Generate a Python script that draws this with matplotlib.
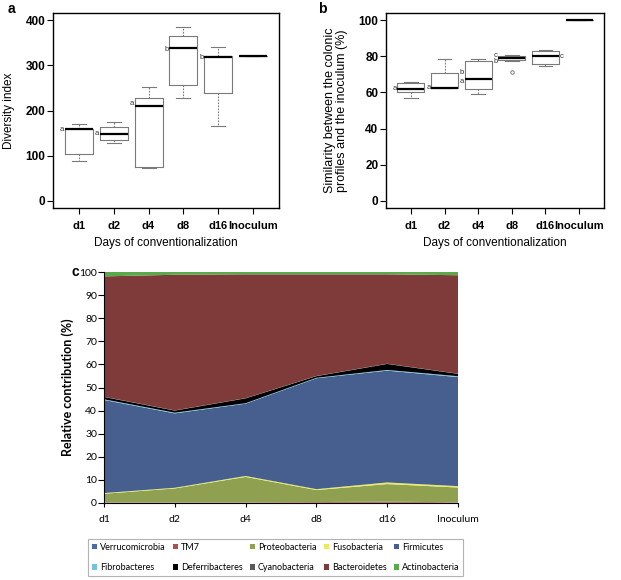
import numpy as np
import matplotlib.pyplot as plt
from matplotlib.patches import Patch

days = ['d1', 'd2', 'd4', 'd8', 'd16', 'Inoculum']

# panel a: diversity index boxplots
div_whislo = [89, 127, 73, 227, 166, 320]
div_q1 = [104, 134, 75, 257, 238, 320]
div_med = [159, 149, 211, 338, 318, 320]
div_q3 = [159, 163, 228, 364, 320, 320]
div_whishi = [169, 174, 252, 386, 340, 320]
div_letters = ['a', 'a', 'a', 'b', 'b', '']
div_letter_y = [158, 149, 216, 336, 318, 0]

# panel b: similarity to inoculum boxplots
sim_whislo = [57.0, 62.3, 58.9, 77.5, 74.6, 100]
sim_q1 = [60.2, 62.4, 61.7, 77.8, 75.6, 100]
sim_med = [62.0, 62.6, 67.6, 78.9, 80.2, 100]
sim_q3 = [65.2, 70.7, 77.6, 80.2, 82.8, 100]
sim_whishi = [65.9, 78.3, 78.5, 80.9, 83.5, 100]
sim_fliers = [[], [], [], [71.1], [], []]

# panel c: relative contribution (%) per phylum, bottom to top
phyla = ['Verrucomicrobia', 'TM7', 'Proteobacteria', 'Fusobacteria', 'Firmicutes',
         'Fibrobacteres', 'Deferribacteres', 'Cyanobacteria', 'Bacteroidetes', 'Actinobacteria']
verrucomicrobia = [0.1, 0.1, 0.1, 0.1, 0.1, 0.1]
tm7 = [0.2, 0.2, 0.2, 0.3, 0.5, 0.2]
proteobacteria = [3.7, 6.0, 11.0, 5.2, 7.6, 6.4]
fusobacteria = [0.3, 0.3, 0.4, 0.4, 0.7, 0.6]
firmicutes = [40.3, 32.2, 31.3, 48.0, 48.4, 47.2]
fibrobacteres = [0.3, 0.3, 0.2, 0.2, 0.3, 0.4]
deferribacteres = [1.0, 0.9, 2.1, 0.7, 2.6, 1.0]
cyanobacteria = [0.1, 0.1, 0.1, 0.1, 0.1, 0.1]
bacteroidetes = [52.1, 58.7, 53.6, 44.0, 38.7, 42.6]
actinobacteria = [1.9, 1.2, 1.0, 1.0, 1.0, 1.4]

colors = ['#4a6ba3', '#b04e4e', '#8fa150', '#eaea5e', '#465f8e',
          '#73c4de', '#000000', '#5a5a5a', '#7f3a3a', '#5aaa4c']

plt.rcParams['font.family'] = ['Liberation Sans', 'DejaVu Sans']

fig = plt.figure(figsize=(6.21, 5.8), dpi=100)
ax_a = fig.add_axes([53/621, 1-208/580, 226/621, 195/580])
ax_b = fig.add_axes([386/621, 1-208/580, 218/621, 195/580])
ax_c = fig.add_axes([104/621, 1-503/580, 354/621, 231/580])


def draw_boxes(ax, lo, q1, med, q3, hi, fliers):
    stats = []
    for i in range(len(days)):
        stats.append(dict(med=med[i], q1=q1[i], q3=q3[i], whislo=lo[i],
                          whishi=hi[i], fliers=fliers[i]))
    ax.bxp(stats, positions=range(1, len(days) + 1), widths=0.8, capwidths=0.4,
           boxprops=dict(color='#7a7a7a', lw=0.8),
           medianprops=dict(color='black', lw=1.6),
           whiskerprops=dict(color='#7a7a7a', lw=0.8, ls=(0, (1.5, 1.2))),
           capprops=dict(color='#7a7a7a', lw=0.8),
           flierprops=dict(marker='o', mfc='none', mec='#7a7a7a', ms=2.5, mew=0.7))
    ax.set_xlim(0.26, 6.74)
    ax.set_xticks(range(1, len(days) + 1))
    ax.set_xticklabels(days, fontweight='bold', fontsize=8)
    ax.tick_params(axis='x', length=4, pad=5)
    ax.tick_params(axis='y', length=4, pad=1.5, labelsize=8.5)
    ax.set_xlabel('Days of conventionalization', fontsize=8.5, labelpad=5)
    for s in ax.spines.values():
        s.set_linewidth(1)


# panel a
draw_boxes(ax_a, div_whislo, div_q1, div_med, div_q3, div_whishi, [[]] * 6)
ax_a.set_ylim(-16, 416)
ax_a.set_yticks([0, 100, 200, 300, 400])
for lab in ax_a.get_yticklabels():
    lab.set_fontweight('bold')
ax_a.set_ylabel('Diversity index', fontsize=8.5)
ax_a.yaxis.set_label_coords(-0.17, 0.5)
for i, (t, y) in enumerate(zip(div_letters, div_letter_y)):
    if t:
        ax_a.text(i + 1 - 0.42, y, t, ha='right', va='center', fontsize=5.5, color='#333333')

# panel b
draw_boxes(ax_b, sim_whislo, sim_q1, sim_med, sim_q3, sim_whishi, sim_fliers)
ax_b.set_ylim(-4, 104)
ax_b.set_yticks([0, 20, 40, 60, 80, 100])
for lab in ax_b.get_yticklabels():
    lab.set_fontweight('bold')
ax_b.set_ylabel('Similarity between the colonic\nprofiles and the inoculum (%)',
                fontsize=9, linespacing=1.0)
ax_b.yaxis.set_label_coords(-0.175, 0.5)
b_letters = [(1, 62.0, 'a', 'l'), (2, 62.6, 'a', 'l'), (3, 71.0, 'b', 'l'), (3, 66.0, 'a', 'l'),
             (4, 80.6, 'c', 'l'), (4, 77.4, 'b', 'l'), (5, 80.0, 'c', 'r')]
for pos, y, t, side in b_letters:
    if side == 'l':
        ax_b.text(pos - 0.42, y, t, ha='right', va='center', fontsize=5.5, color='#333333')
    else:
        ax_b.text(pos + 0.42, y, t, ha='left', va='center', fontsize=5.5, color='#333333')

# panel c
x = np.arange(len(days))
series = [verrucomicrobia, tm7, proteobacteria, fusobacteria, firmicutes,
          fibrobacteres, deferribacteres, cyanobacteria, bacteroidetes, actinobacteria]
ax_c.stackplot(x, *series, colors=colors, lw=0)
ax_c.set_xlim(0, len(days) - 1)
ax_c.set_ylim(0, 100)
ax_c.set_yticks(range(0, 101, 10))
ax_c.set_xticks(x)
ax_c.set_xticklabels(days, fontsize=7.5, family=['Lato', 'DejaVu Sans'])
for lab in ax_c.get_yticklabels():
    lab.set_family(['Lato', 'DejaVu Sans'])
    lab.set_fontsize(7.5)
ax_c.tick_params(axis='y', length=4, pad=1, width=0.8)
ax_c.tick_params(axis='x', length=3, pad=6, width=0.8)
ax_c.spines['top'].set_visible(False)
ax_c.spines['right'].set_visible(False)
ax_c.spines['left'].set_linewidth(0.8)
ax_c.spines['bottom'].set_linewidth(0.8)
ax_c.set_ylabel('Relative contribution (%)', fontsize=9, fontweight='bold',
                family=['Lato', 'DejaVu Sans'])
ax_c.yaxis.set_label_coords(-0.085, 0.5)

# legend in Excel row order: reorder for matplotlib column-major filling
handles = [Patch(facecolor=c, edgecolor='none') for c in colors]
order = [0, 5, 1, 6, 2, 7, 3, 8, 4, 9]
leg = fig.legend([handles[i] for i in order], [phyla[i] for i in order],
                 ncol=5, loc='center', bbox_to_anchor=(275.5/621, 1-557.5/580),
                 frameon=True, fancybox=False, edgecolor='#a0a0a0',
                 handlelength=0.6, handleheight=0.6, handletextpad=0.3,
                 columnspacing=0.8, labelspacing=1.3, borderpad=0.45,
                 prop={'family': ['Lato', 'DejaVu Sans'], 'size': 6.5})
leg.get_frame().set_linewidth(0.8)

# panel labels
fig.text(8/621, 1-9/580, 'a', fontsize=10, fontweight='bold', va='center')
fig.text(318/621, 1-9/580, 'b', fontsize=10, fontweight='bold', va='center')
fig.text(72/621, 1-272/580, 'c', fontsize=10, fontweight='bold', va='center')

fig.savefig('out.png', dpi=100)
